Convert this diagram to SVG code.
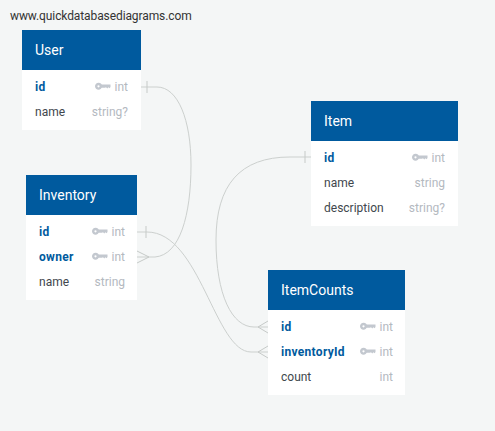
<svg xmlns="http://www.w3.org/2000/svg" width="495" height="431" viewBox="0 0 495 431">
<style>
text{font-family:Roboto,"Liberation Sans",sans-serif;font-size:12px}
.h{fill:#005a9e}
.b{fill:#fff}
.t{fill:#fff;font-size:14px;font-weight:400}
.k{fill:#005a9e;font-weight:700;letter-spacing:.3px}
.n{fill:#41474d}
.y{fill:#b4b9bf;text-anchor:end}
.c{fill:none;stroke:#ccd0ce;stroke-width:1}
</style>
<defs>
<g id="key"><circle cx="3.5" cy="0.3" r="2.3" fill="none" stroke="#c3c8cf" stroke-width="2.4"/><path d="M5 -1.5H15.5V0.9L14.6 2.2L13.4 1.2L12.3 2.4L11 1.2L10 1.7H5Z" fill="#c3c8cf"/></g>
</defs>
<rect width="495" height="431" fill="#f4f6f6"/>
<text x="10" y="20" fill="#333" style="font-size:12px;letter-spacing:-.1px">www.quickdatabasediagrams.com</text>
<g id="connectors" class="c">
<path class="c" d="M141 87H157C178 87 191 120 191 165C191 215 180 255 155 257H137"/>
<path class="c" d="M137 232H147C200 232 215 352 251 352H268"/>
<path class="c" d="M311 157H290C240 157 216 185 216 240C216 295 232 327 254 327H268"/>
<path class="c" d="M147 81V93M305 151V163M146 226V238M137 251L149 257L137 263M268 321L258 327L268 333M268 346L258 352L268 358" style="stroke:#c6cac8"/>
</g>
<g id="user">
<rect class="b" x="22" y="30" width="119" height="100"/>
<rect class="h" x="22" y="30" width="119" height="40"/>
<text class="t" x="35" y="55">User</text>
<text class="k" x="35" y="91">id</text>
<use href="#key" x="95" y="86"/>
<text class="y" x="128" y="91">int</text>
<text class="n" x="35" y="116">name</text>
<text class="y" x="128" y="116">string?</text>
</g>
<g id="inventory">
<rect class="b" x="26" y="175" width="111" height="125"/>
<rect class="h" x="26" y="175" width="111" height="40"/>
<text class="t" x="39" y="200">Inventory</text>
<text class="k" x="39" y="236">id</text>
<use href="#key" x="92" y="231"/>
<text class="y" x="125" y="236">int</text>
<text class="k" x="39" y="261">owner</text>
<use href="#key" x="92" y="256"/>
<text class="y" x="125" y="261">int</text>
<text class="n" x="39" y="286">name</text>
<text class="y" x="125" y="286">string</text>
</g>
<g id="item">
<rect class="b" x="311" y="101" width="147" height="125"/>
<rect class="h" x="311" y="101" width="147" height="40"/>
<text class="t" x="324" y="126">Item</text>
<text class="k" x="324" y="162">id</text>
<use href="#key" x="412" y="157"/>
<text class="y" x="445" y="162">int</text>
<text class="n" x="324" y="187">name</text>
<text class="y" x="445" y="187">string</text>
<text class="n" x="324" y="212">description</text>
<text class="y" x="445" y="212">string?</text>
</g>
<g id="itemcounts">
<rect class="b" x="268" y="270" width="137" height="125"/>
<rect class="h" x="268" y="270" width="137" height="40"/>
<text class="t" x="281" y="295">ItemCounts</text>
<text class="k" x="281" y="331">id</text>
<use href="#key" x="360" y="326"/>
<text class="y" x="393" y="331">int</text>
<text class="k" x="281" y="356">inventoryId</text>
<use href="#key" x="360" y="351"/>
<text class="y" x="393" y="356">int</text>
<text class="n" x="281" y="381">count</text>
<text class="y" x="393" y="381">int</text>
</g>
</svg>
